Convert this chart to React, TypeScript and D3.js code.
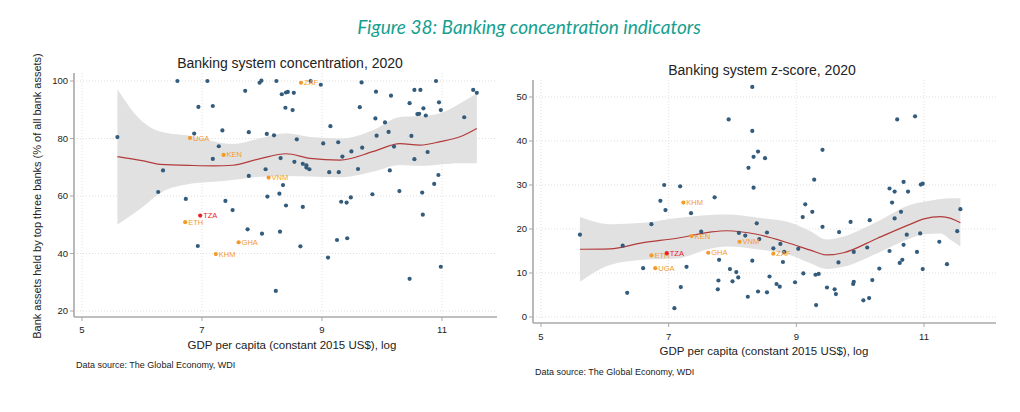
import React from 'react';
import * as d3 from 'd3';

// ---- Banking system concentration (left panel) ----
const concPoints: [number, number][] = [
  [5.59, 80.5], [6.59, 100], [7.09, 100], [6.94, 91], [7.18, 91.3], [6.87, 81.7], [7.34, 82.8],
  [7.28, 77.3], [7.18, 72.9], [7.72, 96.6], [7.78, 82.2], [7.78, 67], [7.96, 99.4], [7.99, 100.1],
  [6.35, 68.9], [6.27, 61.4], [6.73, 59], [7.39, 58.3], [7.51, 55.1], [7.76, 48.4], [6.93, 42.6],
  [8.24, 100], [8.81, 100], [8.98, 98.7], [8.33, 95.4], [8.4, 96.0], [8.43, 96.2], [8.53, 95.9],
  [8.39, 90.7], [8.51, 89.9], [9.14, 84.3], [8.08, 81.6], [8.2, 81.1], [8.58, 79.7], [9.02, 78.3],
  [9.27, 78.7], [8.31, 73.2], [8.54, 71.9], [8.68, 71.2], [8.74, 70.7], [8.74, 69.9], [8.79, 69.3],
  [9.12, 68.3], [9.28, 68.3], [8.06, 69.3], [8.35, 63.8], [8.09, 59.8], [8.29, 60.8], [8.4, 56.7],
  [8.68, 56.2], [8.0, 46.9], [8.3, 47.6], [8.64, 42.5], [9.25, 44.7], [9.1, 38.6], [8.23, 27],
  [9.66, 99.5], [9.9, 96.3], [10.15, 94.9], [10.9, 100], [10.54, 96.9], [10.64, 96.9], [10.46, 92.3],
  [10.95, 92.6], [10.69, 90.5], [10.59, 88.5], [10.62, 88.6], [10.73, 88.0], [10.98, 89.9],
  [11.52, 96.9], [11.58, 95.9], [9.63, 90.9], [9.89, 87], [10.05, 85.6], [11.37, 87.4], [10.11, 82.3],
  [9.91, 81], [10.49, 80.9], [10.2, 77.2], [9.67, 76.8], [9.49, 75.5], [9.34, 73.7], [10.76, 75.3],
  [10.54, 72.8], [9.6, 69.4], [10.13, 68.9], [10.94, 67.3], [10.87, 64.2], [9.84, 60.6], [10.29, 61.7],
  [10.67, 61.2], [9.32, 58.0], [9.41, 57.7], [9.48, 59.5], [10.68, 53.5], [9.42, 45.3], [10.98, 35.4],
  [10.46, 31.2],
];
const concLabeled: [string, number, number][] = [
  ['UGA', 6.8, 80.2], ['KEN', 7.36, 74.3], ['ZAF', 8.65, 99.4], ['VNM', 8.11, 66.4],
  ['TZA', 6.97, 53.2], ['ETH', 6.72, 50.9], ['GHA', 7.61, 43.9], ['KHM', 7.23, 39.8],
];
// x, fitted, lower CI, upper CI
const concFit: [number, number, number, number][] = [
  [5.59, 73.7, 50.1, 97.1], [6.0, 72.3, 56, 86], [6.3, 71, 61, 82.4], [6.86, 70.6, 64.4, 80.7],
  [7.2, 70.5, 65, 79], [7.51, 70.7, 65.6, 78.1], [7.97, 73, 66.7, 80.1], [8.4, 74.7, 67, 81.8],
  [8.8, 73.1, 66.8, 80.5], [9.3, 72.5, 66.5, 80], [9.86, 75.5, 68.5, 83], [10.3, 78.2, 70.8, 87.5],
  [10.63, 77.7, 70.5, 87.8], [10.97, 78.9, 71, 88.8], [11.3, 80.6, 71.4, 92.2], [11.58, 83.5, 71.4, 95.7],
];
const concYTicks = [20, 40, 60, 80, 100];

// ---- Banking system z-score (right panel) ----
const zPoints: [number, number][] = [
  [8.31, 52.3], [7.94, 44.9], [8.31, 42.3], [8.4, 37.6], [8.33, 36.4], [8.51, 36.1], [8.25, 33.9],
  [8.33, 29.4], [6.93, 30], [7.18, 29.7], [6.87, 26.4], [6.95, 24.3], [7.72, 27.2], [7.35, 23.6],
  [9.41, 38], [10.58, 44.9], [10.86, 45.6], [9.28, 31.2], [10.68, 30.7], [10.46, 29.2], [10.54, 28.5],
  [10.75, 28.5], [10.95, 30.1], [10.98, 30.3], [9.14, 25.6], [9.25, 23.9], [9.1, 22.7], [10.5, 26],
  [10.64, 23.9], [11.57, 24.5], [10.54, 22.4], [10.15, 22], [9.85, 21.6], [9.41, 20.5], [9.67, 19.3],
  [10.73, 18.7], [10.94, 19], [11.52, 19.5], [10.68, 16.4], [11.24, 17.1], [9.9, 14.8], [10.11, 15.8],
  [10.46, 15], [10.89, 14.8], [9.66, 12.4], [10.66, 13], [10.62, 12.3], [11.36, 12], [10.3, 11],
  [10.98, 10.9], [9.3, 9.6], [9.35, 9.8], [10.19, 8.4], [9.89, 7.5], [9.9, 8.0], [9.48, 6.7],
  [9.6, 6.3], [9.62, 5.2], [10.05, 3.8], [10.14, 4.3], [9.31, 2.7], [8.38, 21.3], [8.54, 19.2],
  [8.42, 17.7], [8.64, 15.6], [8.75, 16.6], [8.81, 14.8], [8.79, 12.5], [8.31, 12.8], [8.58, 9.2],
  [8.69, 7.5], [8.74, 6.9], [8.4, 5.8], [8.54, 5.6], [9.03, 15.5], [9.11, 9.9], [8.98, 7.9],
  [6.73, 21.1], [7.51, 19.4], [8.1, 19.1], [8.2, 18.5], [7.79, 13], [6.6, 11.1], [7.28, 11.4],
  [7.96, 10.9], [8.06, 10.2], [8.0, 8.1], [8.09, 9.0], [7.78, 8.3], [7.77, 6.3], [8.24, 4.6],
  [7.19, 6.8], [7.09, 2.0], [5.61, 18.7], [6.28, 16.2], [6.35, 5.5],
];
const zLabeled: [string, number, number][] = [
  ['KHM', 7.23, 26], ['KEN', 7.36, 18.4], ['VNM', 8.11, 17.1], ['ETH', 6.73, 14],
  ['TZA', 6.97, 14.5], ['GHA', 7.62, 14.6], ['ZAF', 8.64, 14.4], ['UGA', 6.79, 11.1],
];
const zFit: [number, number, number, number][] = [
  [5.61, 15.4, 8, 22.7], [6.08, 15.5, 11.8, 21.1], [6.6, 16.9, 13, 21.4], [7.13, 17.9, 13.3, 22.5],
  [7.65, 19.3, 15.5, 23.2], [7.91, 19.6, 16, 23.3], [8.38, 18.8, 15.4, 22.6], [8.9, 16.7, 14.1, 21.5],
  [9.22, 15.2, 12.2, 19.5], [9.48, 14.1, 10.9, 17.6], [9.74, 14.6, 11.4, 18.3], [10.27, 17.9, 14.5, 21.7],
  [10.79, 21.1, 17.9, 25.5], [11.0, 22.3, 18.8, 26.2], [11.26, 22.8, 19, 26.8], [11.42, 22.4, 17.5, 27],
  [11.57, 21.4, 16, 27],
];
const zYTicks = [0, 10, 20, 30, 40, 50];

const xTicks = [5, 7, 9, 11];

const FONT = '"Liberation Sans", Arial, sans-serif';
const DOT = '#335b7b';
const ORANGE = '#f39a2e';
const RED = '#e8212b';

interface PanelProps {
  title: string;
  points: [number, number][];
  labeled: [string, number, number][];
  fit: [number, number, number, number][];
  yTicks: number[];
  x: d3.ScaleLinear<number, number>;
  y: d3.ScaleLinear<number, number>;
  box: { left: number; right: number; top: number; bottom: number };
  titleX: number;
  titleY: number;
  tickLabelY: number;
  xTitleX: number;
  xTitleY: number;
  sourceY: number;
  yTitle?: string;
}

const Panel: React.FC<PanelProps> = ({ title, points, labeled, fit, yTicks, x, y, box, titleX, titleY, tickLabelY, xTitleX, xTitleY, sourceY, yTitle }) => {
  const area = d3.area<[number, number, number, number]>()
    .x(d => x(d[0]))
    .y0(d => y(d[2]))
    .y1(d => y(d[3]))
    .curve(d3.curveMonotoneX);
  const line = d3.line<[number, number, number, number]>()
    .x(d => x(d[0]))
    .y(d => y(d[1]))
    .curve(d3.curveMonotoneX);

  return (
    <g fontFamily={FONT}>
      <text x={titleX} y={titleY} textAnchor="middle" fontSize={14} fill="#222">{title}</text>
      {/* gridlines */}
      {yTicks.map(t => (
        <line key={'gy' + t} x1={box.left + 3} x2={box.right} y1={y(t)} y2={y(t)} stroke="#d8d8d8" strokeWidth={0.8} strokeDasharray="1,2" />
      ))}
      {xTicks.map(t => (
        <line key={'gx' + t} x1={x(t)} x2={x(t)} y1={box.top} y2={box.bottom - 3} stroke="#d8d8d8" strokeWidth={0.8} strokeDasharray="1,2" />
      ))}
      <path d={area(fit) || ''} fill="#dcdcdc" opacity={0.85} />
      <path d={line(fit) || ''} fill="none" stroke="#b23b3b" strokeWidth={1.2} />
      {points.map((p, i) => (
        <circle key={i} cx={x(p[0])} cy={y(p[1])} r={2.1} fill={DOT} />
      ))}
      {labeled.map(([code, vx, vy]) => {
        const c = code === 'TZA' ? RED : ORANGE;
        return (
          <g key={code}>
            <circle cx={x(vx)} cy={y(vy)} r={2.1} fill={c} />
            <text x={x(vx) + 3} y={y(vy) + 2.6} fontSize={7.5} fill={c}>{code}</text>
          </g>
        );
      })}
      {/* axes */}
      <line x1={box.left} x2={box.left} y1={box.top} y2={box.bottom} stroke="#a8a8a8" strokeWidth={1.6} />
      <line x1={box.left} x2={box.right} y1={box.bottom} y2={box.bottom} stroke="#a8a8a8" strokeWidth={1.6} />
      {yTicks.map(t => (
        <g key={'ty' + t}>
          <line x1={box.left - 4} x2={box.left} y1={y(t)} y2={y(t)} stroke="#a8a8a8" strokeWidth={1} />
          <text x={box.left - 6} y={y(t)} dy="0.35em" textAnchor="end" fontSize={9.5} fill="#222">{t}</text>
        </g>
      ))}
      {xTicks.map(t => (
        <g key={'tx' + t}>
          <line x1={x(t)} x2={x(t)} y1={box.bottom} y2={box.bottom + 4} stroke="#a8a8a8" strokeWidth={1} />
          <text x={x(t)} y={tickLabelY} textAnchor="middle" fontSize={9.5} fill="#222">{t}</text>
        </g>
      ))}
      <text x={xTitleX} y={xTitleY} textAnchor="middle" fontSize={11.5} fill="#222">GDP per capita (constant 2015 US$), log</text>
      {yTitle && (
        <text transform={`translate(${box.left - 33},${(box.top + box.bottom) / 2 + 1}) rotate(-90)`} textAnchor="middle" fontSize={11} fill="#222">{yTitle}</text>
      )}
      <text x={box.left + 2} y={sourceY} fontSize={9} fill="#222">Data source: The Global Economy, WDI</text>
    </g>
  );
};

export default function App() {
  const xL = d3.scaleLinear().domain([5, 11]).range([82, 442]);
  const yL = d3.scaleLinear().domain([20, 100]).range([311, 81]);
  const xR = d3.scaleLinear().domain([5, 11]).range([541, 924]);
  const yR = d3.scaleLinear().domain([0, 50]).range([317, 97]);

  return (
    <svg width={1020} height={412} viewBox="0 0 1020 412" style={{ position: 'absolute', left: 0, top: 0, background: '#fff' }}>
      <rect width={1020} height={412} fill="#fff" />
      <text x={529} y={34} textAnchor="middle" fontFamily="Lato, 'Open Sans', sans-serif" fontStyle="italic" fontSize={19} fill="#14a090">
        Figure 38: Banking concentration indicators
      </text>
      <Panel
        title="Banking system concentration, 2020"
        points={concPoints}
        labeled={concLabeled}
        fit={concFit}
        yTicks={concYTicks}
        x={xL}
        y={yL}
        box={{ left: 74, right: 497, top: 73, bottom: 317 }}
        titleX={290}
        titleY={68}
        tickLabelY={333}
        xTitleX={292}
        xTitleY={349}
        sourceY={368}
        yTitle="Bank assets held by top three banks (% of all bank assets)"
      />
      <Panel
        title="Banking system z-score, 2020"
        points={zPoints}
        labeled={zLabeled}
        fit={zFit}
        yTicks={zYTicks}
        x={xR}
        y={yR}
        box={{ left: 533, right: 996, top: 80, bottom: 323 }}
        titleX={762}
        titleY={75}
        tickLabelY={340}
        xTitleX={764}
        xTitleY={355}
        sourceY={375}
      />
    </svg>
  );
}
